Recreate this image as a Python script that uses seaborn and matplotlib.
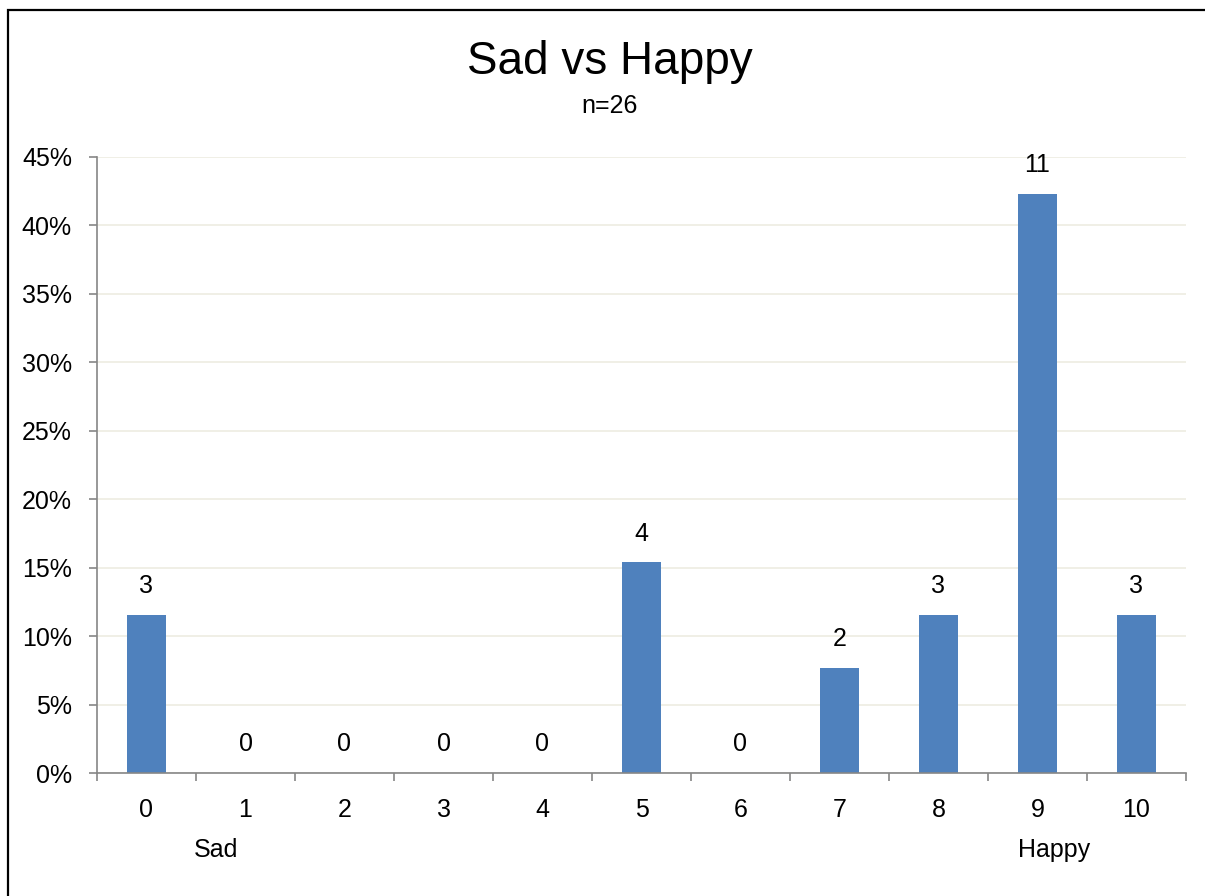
import matplotlib
matplotlib.use("Agg")
import matplotlib.pyplot as plt
import seaborn as sns
import pandas as pd
from matplotlib.ticker import PercentFormatter, FixedLocator
from matplotlib.patches import Rectangle

categories = ["0", "1", "2", "3", "4", "5", "6", "7", "8", "9", "10"]
counts = [3, 0, 0, 0, 0, 4, 0, 2, 3, 11, 3]
n_total = 26
title = "Sad vs Happy"
subtitle = "n=26"
low_label = "Sad"
high_label = "Happy"

pct = [c / n_total * 100 for c in counts]
df = pd.DataFrame({"score": categories, "pct": pct, "count": counts})

sns.set_theme(style="white")
plt.rcParams["font.family"] = ["Liberation Sans Narrow", "Liberation Sans", "DejaVu Sans"]
plt.rcParams["text.color"] = "black"

fig = plt.figure(figsize=(12.05, 8.96), dpi=100)
ax = fig.add_axes([97/1205, 1 - 773/896, (1186-97)/1205, (773-157)/896])

sns.barplot(data=df, x="score", y="pct", order=categories, color="#4F81BD",
            saturation=1, width=0.4, linewidth=0, ax=ax, zorder=3)

ax.set_ylim(0, 45)
ax.set_xlim(-0.5, len(categories) - 0.5)
ax.yaxis.set_major_locator(FixedLocator(range(0, 46, 5)))
ax.yaxis.set_major_formatter(PercentFormatter(decimals=0))
ax.grid(axis="y", color="#EEECE1", linewidth=1.2, zorder=0)
ax.set_axisbelow(True)

for s in ["top", "right"]:
    ax.spines[s].set_visible(False)
for s in ["left", "bottom"]:
    ax.spines[s].set_color("#868686")
    ax.spines[s].set_linewidth(1.2)
    ax.spines[s].set_zorder(4)

ax.tick_params(axis="y", which="major", length=6, width=1.2, color="#868686",
               labelsize=18, pad=12, left=True, labelcolor="black")
ax.tick_params(axis="x", which="major", length=0, labelsize=18, pad=18, labelcolor="black")
ax.set_xticks([i - 0.5 for i in range(len(categories) + 1)], minor=True)
ax.tick_params(axis="x", which="minor", length=6, width=1.2, color="#868686", bottom=True)
ax.set_xlabel("")
ax.set_ylabel("")

for i, (p, c) in enumerate(zip(pct, counts)):
    ax.annotate(str(c), (i, p), xytext=(0, 12), textcoords="offset points",
                ha="center", va="bottom", fontsize=18, color="black")

ax.text(0.70, -0.125, low_label, transform=ax.get_xaxis_transform(),
        ha="center", va="center", fontsize=18, color="black")
ax.text(9.17, -0.125, high_label, transform=ax.get_xaxis_transform(),
        ha="center", va="center", fontsize=18, color="black")

fig.text(610/1205, 1 - 62/896, title, ha="center", va="center", fontsize=33, color="black")
fig.text(610/1205, 1 - 106/896, subtitle, ha="center", va="center", fontsize=18, color="black")

fig.patches.append(Rectangle((8/1205, -0.1), 1.2, 1 - 10/896 + 0.1,
                             transform=fig.transFigure, fill=False,
                             edgecolor="black", linewidth=1.6))

fig.savefig("out.png", dpi=100)
